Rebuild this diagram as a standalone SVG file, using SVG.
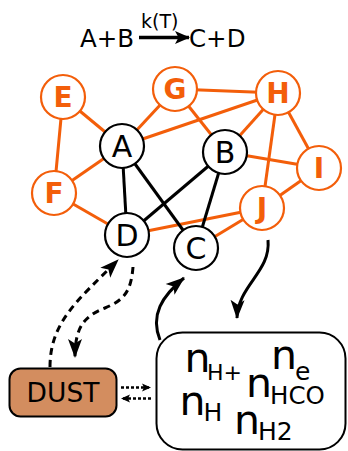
<svg xmlns="http://www.w3.org/2000/svg" width="348" height="451" viewBox="0 0 348 451">
  <style>
    .lbl { font-family: "DejaVu Sans", Verdana, sans-serif; text-anchor: middle; }
    .org circle { fill: #ffffff; stroke: #f35e0a; stroke-width: 2.2; }
    .org text { fill: #f35e0a; font-size: 28px; font-weight: bold; }
    .blk circle { fill: #ffffff; stroke: #000000; stroke-width: 2.2; }
    .blk text { fill: #000000; font-size: 30px; }
    .eo { stroke: #f35e0a; stroke-width: 3; fill: none; }
    .eb { stroke: #000000; stroke-width: 3; fill: none; }
    .flow { stroke: #000000; stroke-width: 3; fill: none; }
    .dash { stroke: #000000; stroke-width: 3; fill: none; stroke-dasharray: 7 5; }
    .dot { stroke: #000000; stroke-width: 2.5; fill: none; stroke-dasharray: 3 2; }
    .t { font-family: "DejaVu Sans", Verdana, sans-serif; fill: #000000; }
  </style>
  <defs>
    <marker id="head" markerWidth="16" markerHeight="16" viewBox="0 0 16 16" refX="14" refY="8" orient="auto" markerUnits="userSpaceOnUse">
      <path d="M0,1.5 L15,8 L0,14.5 L3.5,8 Z" fill="#000000"/>
    </marker>
    <marker id="bighead" markerWidth="20" markerHeight="20" viewBox="0 0 20 20" refX="18" refY="10" orient="auto" markerUnits="userSpaceOnUse">
      <path d="M0,3 L19,10 L0,17 L4.5,10 Z" fill="#000000"/>
    </marker>
    <marker id="small" markerWidth="10" markerHeight="10" viewBox="0 0 10 10" refX="9" refY="5" orient="auto" markerUnits="userSpaceOnUse">
      <path d="M0,1 L9,5 L0,9 L2,5 Z" fill="#000000"/>
    </marker>
  </defs>

  <!-- reaction header -->
  <g id="reaction">
    <text class="t" x="80" y="47" font-size="24.5">A+B</text>
    <text class="t" x="141" y="28" font-size="19">k(T)</text>
    <line x1="139" y1="37.5" x2="189" y2="37.5" stroke="#000" stroke-width="3.5" marker-end="url(#head)"/>
    <text class="t" x="189" y="47" font-size="24.5">C+D</text>
  </g>

  <!-- network edges -->
  <g id="edges">
    <line class="eo" x1="63" y1="97" x2="122" y2="146"/>
    <line class="eo" x1="63" y1="97" x2="54" y2="193"/>
    <line class="eo" x1="54" y1="193" x2="122" y2="146"/>
    <line class="eo" x1="54" y1="193" x2="127" y2="235"/>
    <line class="eo" x1="175" y1="89" x2="122" y2="146"/>
    <line class="eo" x1="175" y1="89" x2="278" y2="93"/>
    <line class="eo" x1="175" y1="89" x2="225" y2="152"/>
    <line class="eo" x1="278" y1="93" x2="122" y2="146"/>
    <line class="eo" x1="278" y1="93" x2="225" y2="152"/>
    <line class="eo" x1="278" y1="93" x2="319" y2="168"/>
    <line class="eo" x1="278" y1="93" x2="262" y2="208"/>
    <line class="eo" x1="225" y1="152" x2="319" y2="168"/>
    <line class="eo" x1="262" y1="208" x2="319" y2="168"/>
    <line class="eo" x1="262" y1="208" x2="127" y2="235"/>
    <line class="eo" x1="262" y1="208" x2="196" y2="248"/>
    <line class="eb" x1="122" y1="146" x2="127" y2="235"/>
    <line class="eb" x1="122" y1="146" x2="196" y2="248"/>
    <line class="eb" x1="225" y1="152" x2="127" y2="235"/>
    <line class="eb" x1="225" y1="152" x2="196" y2="248"/>
  </g>

  <!-- species nodes -->
  <g id="E" class="org lbl"><circle cx="63" cy="97" r="22"/><text x="63" y="107">E</text></g>
  <g id="F" class="org lbl"><circle cx="54" cy="193" r="22"/><text x="54" y="203">F</text></g>
  <g id="G" class="org lbl"><circle cx="175" cy="89" r="22"/><text x="175" y="99">G</text></g>
  <g id="H" class="org lbl"><circle cx="278" cy="93" r="22"/><text x="278" y="103">H</text></g>
  <g id="I" class="org lbl"><circle cx="319" cy="168" r="22"/><text x="319" y="178">I</text></g>
  <g id="J" class="org lbl"><circle cx="262" cy="208" r="22"/><text x="262" y="218">J</text></g>
  <g id="A" class="blk lbl"><circle cx="122" cy="146" r="22"/><text x="122" y="157">A</text></g>
  <g id="B" class="blk lbl"><circle cx="225" cy="152" r="22"/><text x="225" y="163">B</text></g>
  <g id="D" class="blk lbl"><circle cx="127" cy="235" r="22"/><text x="127" y="246">D</text></g>
  <g id="C" class="blk lbl"><circle cx="196" cy="248" r="22"/><text x="196" y="259">C</text></g>

  <!-- dust grain reservoir -->
  <g id="dust">
    <rect x="9.5" y="368.5" width="107" height="48" rx="11" fill="#d38d5f" stroke="#000" stroke-width="2"/>
    <text class="t" x="63" y="402" font-size="26.5" text-anchor="middle">DUST</text>
  </g>

  <!-- abundances box -->
  <g id="abundances">
    <rect x="156.5" y="332.5" width="189" height="117" rx="26" fill="#ffffff" stroke="#000" stroke-width="2"/>
    <text class="t" x="184.5" y="371.5" font-size="41">n</text>
    <text class="t" x="207" y="380" font-size="22">H+</text>
    <text class="t" x="271" y="368.5" font-size="41">n</text>
    <text class="t" x="295" y="379.5" font-size="25">e</text>
    <text class="t" x="246" y="396.5" font-size="41">n</text>
    <text class="t" x="270" y="403.5" font-size="24.5">HCO</text>
    <text class="t" x="179.5" y="414.5" font-size="41">n</text>
    <text class="t" x="203.5" y="420.5" font-size="25">H</text>
    <text class="t" x="234" y="433.5" font-size="41">n</text>
    <text class="t" x="258" y="439.5" font-size="25">H2</text>
  </g>

  <!-- exchange connectors -->
  <g id="connectors">
    <path class="flow" d="M268,240 C271,272 238,285 237,318" marker-end="url(#bighead)"/>
    <path class="flow" d="M160,340 C150,315 162,296 184,278" marker-end="url(#bighead)"/>
    <path class="dash" d="M50,367 C50,322 78,300 118,260" marker-end="url(#bighead)"/>
    <path class="dash" d="M133,267 C131,292 124,300 105,308 C85,316 75,326 75,357" marker-end="url(#bighead)"/>
    <line class="dot" x1="121" y1="387.5" x2="151" y2="387.5" marker-end="url(#small)"/>
    <line class="dot" x1="151" y1="398.5" x2="121" y2="398.5" marker-end="url(#small)"/>
  </g>
</svg>
